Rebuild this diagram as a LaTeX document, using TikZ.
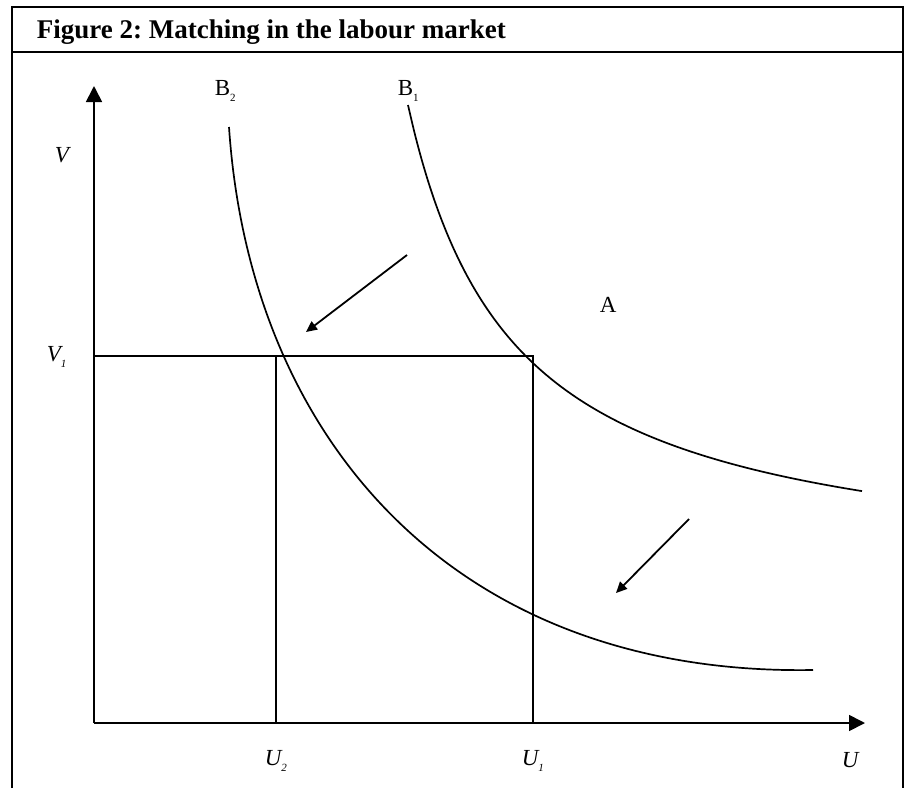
\documentclass[tikz,border=0pt]{standalone}
\usepackage{fontspec}
\setmainfont{Liberation Serif}
\usetikzlibrary{arrows.meta}
\newcommand\lsub[1]{\raisebox{-0.3em}{\fontsize{11}{11}\selectfont #1}}
\frenchspacing
\begin{document}
\begin{tikzpicture}[x=1pt,y=-1pt,line width=1.7pt,
  lbl/.style={inner sep=0pt,anchor=base west,font=\fontsize{23}{23}\selectfont},
  axisarrow/.style={-{Triangle[length=16pt,width=16pt]}},
  shiftarrow/.style={line width=1.8pt,-{Triangle[length=11pt,width=10pt]}},
  curve/.style={line width=1.7pt}]
\useasboundingbox (0,0) rectangle (911,788);
% frame
\draw (12,788) -- (12,7) -- (903,7) -- (903,788);
\draw (12,52) -- (903,52);
\node[inner sep=0pt,anchor=base west,font=\fontsize{27}{27}\selectfont\bfseries] (title) at (36,38) {Figure 2: Matching in the labour market};
% axes
\coordinate (O) at (94,723);
\coordinate (Vtip) at (94,86);
\coordinate (Utip) at (865,723);
\draw[axisarrow] (O) -- (Vtip);
\draw[axisarrow] (O) -- (Utip);
% reference lines
\coordinate (V1) at (94,356);
\coordinate (C1) at (533,356);
\coordinate (C2) at (276,356);
\coordinate (U1) at (533,723);
\coordinate (U2) at (276,723);
\draw (V1) -- (C1) -- (U1);
\draw (C2) -- (U2);
% curves
\draw[curve] plot[smooth,samples=70,domain=408:862] (\x,{580.8-501.92/((\x-302.5)/100)});
\draw[curve] (229,127) .. controls (250,440) and (455,676) .. (813,670);
% shift arrows
\coordinate (a1s) at (407,255);
\coordinate (a1e) at (306,332);
\coordinate (a2s) at (689,519);
\coordinate (a2e) at (616,593);
\draw[shiftarrow] (a1s) -- (a1e);
\draw[shiftarrow] (a2s) -- (a2e);
% labels
\node[lbl] (lB2) at (214,95) {B\lsub{2}};
\node[lbl] (lB1) at (397,95) {B\lsub{1}};
\node[lbl] (lV) at (54,162) {\itshape V};
\node[lbl] (lV1) at (46,361) {\itshape V\lsub{1}};
\node[lbl] (lA) at (599,312) {A};
\node[lbl] (lU2) at (264,765) {\itshape U\lsub{2}};
\node[lbl] (lU1) at (521,765) {\itshape U\lsub{1}};
\node[lbl] (lU) at (841,767) {\itshape U};
\end{tikzpicture}
\end{document}
